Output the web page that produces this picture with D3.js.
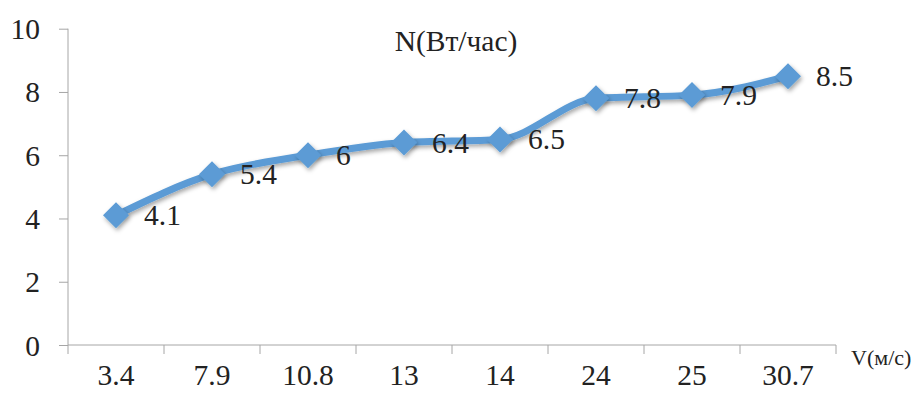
<!DOCTYPE html>
<html><head><meta charset="utf-8">
<script src="https://cdn.jsdelivr.net/npm/d3@7"></script>
<style>body{margin:0;background:#fff}svg{display:block}svg text{font-family:"Liberation Serif","Times New Roman","DejaVu Serif",serif}</style>
</head><body>
<svg id="c" width="919" height="394"></svg>
<script>
const categories = ["3.4","7.9","10.8","13","14","24","25","30.7"];
const values = [4.1,5.4,6,6.4,6.5,7.8,7.9,8.5];
const valueLabels = ["4.1","5.4","6","6.4","6.5","7.8","7.9","8.5"];
const yTicks = [0,2,4,6,8,10];
const title = "N(Вт/час)";
const xTitle = "V(м/с)";

const svg = d3.select("#c");
const font = '"Liberation Serif","Times New Roman","DejaVu Serif",serif';
const fs = "29.5px";
const m = {l:68, r:836, t:28.7, b:345};
const x = d3.scaleBand().domain(categories).range([m.l, m.r]);
const y = d3.scaleLinear().domain([0,10]).range([m.b, m.t]);
const axisColor = "#a6a6a6";

const defs = svg.append("defs");
const f = defs.append("filter").attr("id","sh").attr("x","-50%").attr("y","-50%").attr("width","200%").attr("height","200%");
f.append("feDropShadow").attr("dx",1.5).attr("dy",2.5).attr("stdDeviation",2).attr("flood-color","#000").attr("flood-opacity",0.35);

// y axis
const ya = svg.append("g").attr("transform",`translate(${m.l},0)`)
  .call(d3.axisLeft(y).tickValues(yTicks).tickSize(9).tickPadding(0).tickFormat(d3.format("d")));
ya.attr("font-family",null).attr("font-size",null);
ya.select(".domain").attr("stroke",axisColor).attr("d",`M0,${m.t}V${m.b}`);
ya.selectAll(".tick line").attr("stroke",axisColor);
ya.selectAll(".tick text").attr("x",-28).attr("dy","0.34em").style("font-family",font).style("font-size",fs).attr("fill","#222");

// x axis
const xa = svg.append("g").attr("transform",`translate(0,${m.b})`)
  .call(d3.axisBottom(x).tickSize(0).tickPadding(0));
xa.attr("font-family",null).attr("font-size",null);
xa.select(".domain").attr("stroke",axisColor).attr("d",`M${m.l},0H${m.r}`);
xa.selectAll(".tick text").attr("y",40).attr("dy",0).style("font-family",font).style("font-size",fs).attr("fill","#222");
const bounds = categories.map(c=>x(c)).concat([m.r]);
xa.selectAll(".bt").data(bounds).enter().append("line").attr("class","bt")
  .attr("x1",d=>d).attr("x2",d=>d).attr("y1",0).attr("y2",9).attr("stroke",axisColor);

const cx = c => x(c) + x.bandwidth()/2;
const pts = categories.map((c,i)=>[cx(c), y(values[i])]);

svg.append("path").datum(pts)
  .attr("d", d3.line().curve(d3.curveMonotoneX))
  .attr("fill","none").attr("stroke","#5b9bd5").attr("stroke-width",7).attr("stroke-linejoin","round")
  .attr("filter","url(#sh)");

const ds = 13;
svg.append("g").selectAll("path").data(pts).enter().append("path")
  .attr("d",d=>`M${d[0]},${d[1]-ds}L${d[0]+ds},${d[1]}L${d[0]},${d[1]+ds}L${d[0]-ds},${d[1]}Z`)
  .attr("fill","#5b9bd5").attr("filter","url(#sh)");

svg.append("g").selectAll("text").data(pts).enter().append("text")
  .attr("x",d=>d[0]+28).attr("y",d=>d[1]+10)
  .style("font-family",font).style("font-size",fs).attr("fill","#222")
  .text((d,i)=>valueLabels[i]);

svg.append("text").attr("x",456).attr("y",51).attr("text-anchor","middle")
  .style("font-family",font).style("font-size",fs).attr("fill","#222").text(title);
svg.append("text").attr("x",851).attr("y",365)
  .style("font-family",font).style("font-size","22px").attr("fill","#222").text(xTitle);
</script>
</body></html>
